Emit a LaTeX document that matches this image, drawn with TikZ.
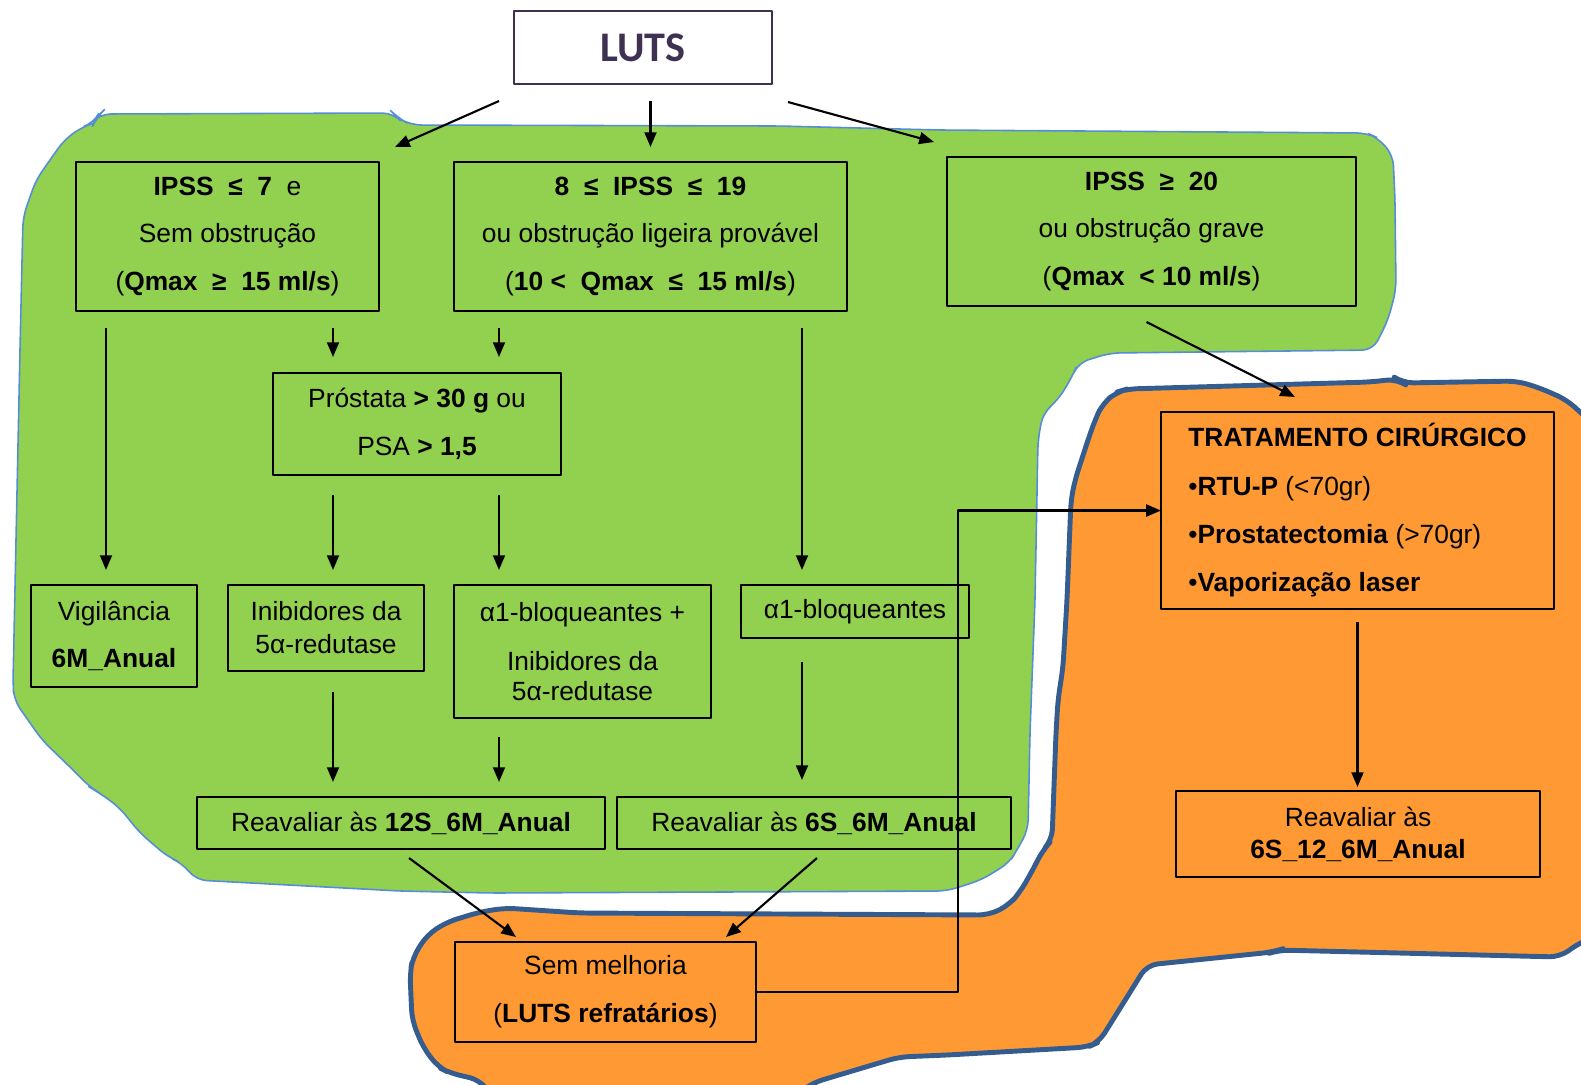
\documentclass[tikz,border=0pt]{standalone}
\usepackage{fontspec}
\setmainfont{Liberation Sans}
\newfontfamily\lutsfont{Carlito}
\usetikzlibrary{arrows.meta,calc}
\definecolor{greenblob}{HTML}{92D050}
\definecolor{orangeblob}{HTML}{FF9933}
\definecolor{greenline}{HTML}{558ED5}
\definecolor{orangeline}{HTML}{355C8E}
\definecolor{lutscol}{HTML}{3F3151}
\begin{document}
\begin{tikzpicture}[x=1cm,y=-1cm,>={Triangle[length=4.2pt,width=3.4pt]},line join=round,
	font=\fontsize{7.5}{13.6}\selectfont,
	box/.style={draw,line width=0.6pt,inner sep=0pt,outer sep=0pt,align=center},
	arr/.style={->,line width=0.6pt}]
	\path[use as bounding box,clip] (0,0) rectangle (15.81,10.84);
	\filldraw[fill=greenblob,draw=greenline,line width=0.45pt,rounded corners=3pt] (0.97,1.17)--(1.00,1.14)--(3.93,1.13)--(3.98,1.18)--(4.11,1.25)--(7.80,1.26)--(9.40,1.30)--(13.67,1.33)--(13.78,1.38)--(13.93,1.55)--(13.95,2.00)--(13.96,2.90)--(13.88,3.20)--(13.73,3.50)--(11.10,3.53)--(10.78,3.63)--(10.72,3.77)--(10.58,4.00)--(10.43,4.13)--(10.38,4.40)--(10.35,6.00)--(10.30,7.33)--(10.28,8.30)--(10.17,8.50)--(10.09,8.63)--(9.81,8.80)--(9.47,8.91)--(4.91,8.93)--(4.00,8.91)--(1.96,8.80)--(1.82,8.63)--(1.68,8.57)--(1.40,8.33)--(1.19,8.07)--(0.98,7.92)--(0.91,7.88)--(0.70,7.67)--(0.42,7.40)--(0.14,7.00)--(0.13,6.83)--(0.20,3.50)--(0.23,2.17)--(0.36,1.80)--(0.64,1.40)--(0.82,1.27)--(0.94,1.23)--cycle;
	\filldraw[fill=orangeblob,draw=orangeline,line width=1.4pt,rounded corners=3pt] (11.27,3.89)--(13.70,3.82)--(13.97,3.79)--(14.03,3.83)--(15.17,3.81)--(15.40,3.88)--(15.67,4.00)--(15.81,4.13)--(16.00,4.30)--(16.00,9.35)--(15.79,9.43)--(15.60,9.57)--(12.79,9.50)--(12.73,9.52)--(11.47,9.65)--(10.99,10.42)--(10.88,10.47)--(9.47,10.55)--(8.99,10.57)--(8.12,10.83)--(7.90,11.00)--(4.95,11.00)--(4.80,10.80)--(4.50,10.73)--(4.38,10.67)--(4.23,10.47)--(4.12,10.20)--(4.10,9.73)--(4.13,9.57)--(4.27,9.35)--(4.47,9.22)--(4.80,9.12)--(5.05,9.08)--(5.80,9.13)--(9.89,9.15)--(10.09,9.05)--(10.20,8.92)--(10.30,8.75)--(10.43,8.50)--(10.52,8.40)--(10.56,7.33)--(10.58,7.00)--(10.63,6.67)--(10.67,6.00)--(10.71,5.00)--(10.75,4.80)--(10.88,4.40)--(10.95,4.20)--(11.03,4.03)--(11.17,3.92)--cycle;
	\node[box,draw=lutscol,minimum width=2.58cm,minimum height=0.73cm,text=lutscol,font=\lutsfont\bfseries\fontsize{12}{14}\selectfont] (luts) at (6.43,0.475) {LUTS};
	\node[box,minimum width=3.03cm,minimum height=1.49cm] (ipssA) at (2.275,2.365) {\textbf{IPSS~ ≤~ 7}~ e\\Sem obstrução\\(\textbf{Qmax~ ≥~ 15 ml/s})};
	\node[box,minimum width=3.93cm,minimum height=1.49cm] (ipssB) at (6.505,2.365) {\textbf{8~ ≤~ IPSS~ ≤~ 19}\\ou obstrução ligeira provável\\(\textbf{10 <~ Qmax~ ≤~ 15 ml/s})};
	\node[box,minimum width=4.09cm,minimum height=1.49cm] (ipssC) at (11.515,2.315) {\textbf{IPSS~ ≥~ 20}\\ou obstrução grave\\(\textbf{Qmax~ < 10 ml/s})};
	\node[box,minimum width=2.88cm,minimum height=1.02cm] (prost) at (4.17,4.24) {Próstata \textbf{> 30 g} ou\\PSA \textbf{> 1,5}};
	\node[box,minimum width=1.66cm,minimum height=1.02cm] (vig) at (1.14,6.36) {Vigilância\\\textbf{6M\_Anual}};
	\node[box,minimum width=1.96cm,minimum height=0.86cm,font=\fontsize{7.5}{9.4}\selectfont] (inib) at (3.26,6.28) {Inibidores da\\5α-redutase};
	\node[box,minimum width=2.57cm,minimum height=1.33cm,font=\fontsize{7.5}{8.5}\selectfont] (combo) at (5.825,6.515) {α1-bloqueantes +\\[5.4pt]Inibidores da\\5α-redutase};
	\node[box,minimum width=2.28cm,minimum height=0.53cm] (alfa) at (8.55,6.115) {α1-bloqueantes};
	\node[box,minimum width=4.08cm,minimum height=0.52cm] (reavA) at (4.01,8.23) {Reavaliar às \textbf{12S\_6M\_Anual}};
	\node[box,minimum width=3.94cm,minimum height=0.52cm] (reavB) at (8.14,8.23) {Reavaliar às \textbf{6S\_6M\_Anual}};
	\node[box,minimum width=3.01cm,minimum height=1.00cm] (sem) at (6.055,9.92) {Sem melhoria\\(\textbf{LUTS refratários})};
	\node[box,align=left,minimum width=3.93cm,minimum height=1.97cm,font=\fontsize{7.5}{13.75}\selectfont] (trat) at (13.575,5.105) {\textbf{TRATAMENTO CIRÚRGICO}\\•\textbf{RTU-P} (<70gr)\\•\textbf{Prostatectomia} (>70gr)\\•\textbf{Vaporização laser}};
	\node[box,minimum width=3.64cm,minimum height=0.86cm,font=\fontsize{7.5}{9.1}\selectfont] (reavC) at (13.58,8.34) {Reavaliar às\\\textbf{6S\_12\_6M\_Anual}};
	\draw[arr] ($(luts.south west)+(-0.15,0.17)$)--($(ipssA.north east)+(0.16,-0.15)$);
	\draw[arr,shorten <=1.7mm,shorten >=1.5mm] (luts.south -| ipssB.north)--(ipssB.north);
	\draw[arr] ($(luts.south east)+(0.16,0.18)$)--($(ipssC.north west)+(-0.13,-0.15)$);
	\draw[arr,shorten <=1.7mm,shorten >=1.5mm] ([xshift=3mm]ipssA.south west)--([xshift=3mm]ipssA.south west |- vig.north);
	\draw[arr,shorten <=1.7mm,shorten >=1.6mm] ([xshift=-4.6mm]ipssA.south east)--([xshift=-4.6mm]ipssA.south east |- prost.north);
	\draw[arr,shorten <=1.7mm,shorten >=1.6mm] ([xshift=4.5mm]ipssB.south west)--([xshift=4.5mm]ipssB.south west |- prost.north);
	\draw[arr,shorten <=1.7mm,shorten >=1.5mm] ([xshift=-4.5mm]ipssB.south east)--([xshift=-4.5mm]ipssB.south east |- alfa.north);
	\draw[arr,shorten <=2mm,shorten >=1.5mm] ([xshift=6mm]prost.south west)--([xshift=6mm]prost.south west |- inib.north);
	\draw[arr,shorten <=2mm,shorten >=1.5mm] ([xshift=-6.2mm]prost.south east)--([xshift=-6.2mm]prost.south east |- combo.north);
	\draw[arr,shorten <=2.1mm,shorten >=1.5mm] ([xshift=0.7mm]inib.south)--([xshift=0.7mm]inib.south |- reavA.north);
	\draw[arr,shorten <=1.9mm,shorten >=1.5mm] ([xshift=4.5mm]combo.south west)--([xshift=4.5mm]combo.south west |- reavA.north);
	\draw[arr,shorten <=2.4mm,shorten >=1.7mm] ([xshift=6.1mm]alfa.south west)--([xshift=6.1mm]alfa.south west |- reavB.north);
	\draw[arr,shorten <=1.3mm,shorten >=0.4mm] (trat.south)--(trat.south |- reavC.north);
	\draw[arr] ($(ipssC.south)+(-0.05,0.16)$)--($(trat.north west)+(1.34,-0.15)$);
	\draw[arr] ($(reavA.south)+(0.08,0.09)$)--($(sem.north west)+(0.61,-0.05)$);
	\draw[arr] ($(reavB.south)+(0.03,0.09)$)--($(sem.north east)+(-0.30,-0.05)$);
	\draw[arr] (sem.east)--++(2.02,0)|-(trat.west);
\end{tikzpicture}
\end{document}
